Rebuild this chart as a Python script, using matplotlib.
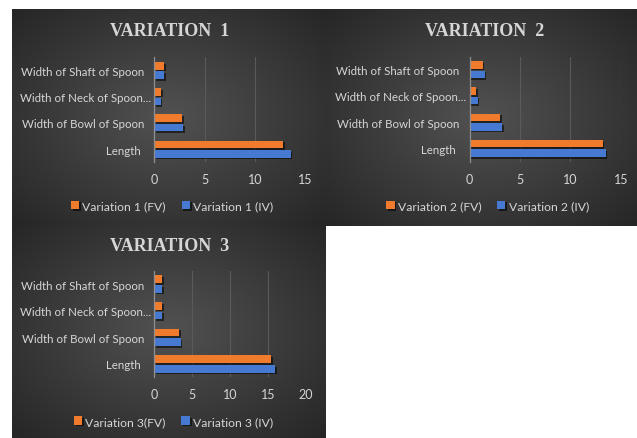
import numpy as np
import matplotlib.pyplot as plt
from matplotlib import patheffects as pe
from matplotlib.transforms import ScaledTranslation

# spoon measurements, bottom to top on the category axis
categories = ["Length ", "Width of Bowl of Spoon", "Width of Neck of Spoon...", "Width of Shaft of Spoon"]

v1_fv = [12.8, 2.75, 0.65, 1.0]
v1_iv = [13.5, 2.85, 0.63, 1.0]
v2_fv = [13.2, 3.05, 0.65, 1.3]
v2_iv = [13.5, 3.25, 0.82, 1.5]
v3_fv = [15.4, 3.25, 1.0, 1.05]
v3_iv = [15.95, 3.5, 1.0, 1.05]

titles = ["VARIATION  1", "VARIATION  2", "VARIATION  3"]
legend_names = [("Variation 1 (FV)", "Variation 1 (IV)"),
                ("Variation 2 (FV)", "Variation 2 (IV)"),
                ("Variation 3(FV)", "Variation 3 (IV)")]

ORANGE = "#f07b2c"
BLUE = "#4579d2"
TXT = "#d6d6d6"

W, H = 637, 439
fig = plt.figure(figsize=(W / 100, H / 100), dpi=100)
fig.patch.set_facecolor("white")


def rect_px(x0, y0, x1, y1):
    return [x0 / W, 1 - y1 / H, (x1 - x0) / W, (y1 - y0) / H]


def backdrop(box):
    bg = fig.add_axes(rect_px(*box), zorder=0)
    yy, xx = np.mgrid[-1:1:220j, -1:1:320j]
    r = np.clip(np.hypot(xx, yy) / 1.4, 0, 1)
    shade = 0.32 - 0.17 * r
    img = np.dstack([shade, shade, shade])
    bg.imshow(img, aspect="auto", interpolation="bilinear")
    bg.axis("off")


def panel(plot_box, title, title_xy, fv, iv, names, xmax, legend_xy):
    ax = fig.add_axes(rect_px(*plot_box), zorder=2)
    ax.set_facecolor("none")
    y = np.arange(len(categories))
    shadow = [pe.SimplePatchShadow(offset=(1.2, -1.2), shadow_rgbFace="black", alpha=0.55), pe.Normal()]
    ax.barh(y + 0.18, fv, height=0.29, color=ORANGE, label=names[0], path_effects=shadow)
    ax.barh(y - 0.18, iv, height=0.29, color=BLUE, label=names[1], path_effects=shadow)
    ax.set_xlim(0, xmax)
    ax.set_ylim(-0.5, len(categories) - 0.5)
    ax.set_xticks(np.arange(0, xmax + 1, 5))
    ax.set_yticks(y, categories)
    ax.grid(axis="x", color="#5a5a5a", lw=0.8)
    ax.set_axisbelow(True)
    for s in ["top", "right", "bottom"]:
        ax.spines[s].set_visible(False)
    ax.spines["left"].set_color("#8f8f8f")
    ax.spines["left"].set_linewidth(0.9)
    ax.tick_params(length=0, colors=TXT)
    ax.tick_params(axis="y", pad=7.5, labelsize=8.3)
    ax.tick_params(axis="x", pad=8, labelsize=9)
    for lab in ax.get_xticklabels() + ax.get_yticklabels():
        lab.set_fontfamily("Lato")
    # truncated neck label sits closer to the axis
    neck = ax.get_yticklabels()[2]
    neck.set_transform(neck.get_transform() + ScaledTranslation(0.075, 0, fig.dpi_scale_trans))

    fig.text(title_xy[0] / W, 1 - title_xy[1] / H, title, ha="center", va="center",
             fontfamily="Liberation Serif", fontweight="bold", fontsize=13, color=TXT)
    leg = ax.legend(loc="center", bbox_to_anchor=(legend_xy[0] / W, 1 - legend_xy[1] / H),
                    bbox_transform=fig.transFigure, ncol=2, frameon=False,
                    handlelength=0.7, handleheight=0.7, handletextpad=0.25, columnspacing=1.3,
                    prop={"family": "Lato", "size": 8.7})
    for t in leg.get_texts():
        t.set_color(TXT)
    return ax


backdrop((12, 10, 326, 226))
backdrop((326, 10, 637, 227))
backdrop((12, 222, 326, 439))

panel((154.3, 58.3, 305.7, 163.3), titles[0], (170, 31.5), v1_fv, v1_iv, legend_names[0], 15, (172, 206.5))
panel((469.5, 57.5, 620.8, 162.5), titles[1], (484.5, 31.5), v2_fv, v2_iv, legend_names[1], 15, (487.5, 206.5))
panel((154.3, 271.7, 305.7, 378.3), titles[2], (169.7, 246.5), v3_fv, v3_iv, legend_names[2], 20, (173.5, 422.3))

fig.savefig("out.png", dpi=100, facecolor=fig.get_facecolor())
